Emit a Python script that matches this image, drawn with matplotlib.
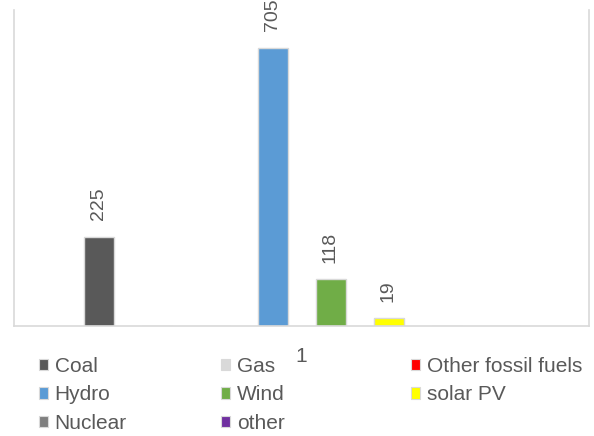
import matplotlib.pyplot as plt
from matplotlib.patches import Patch

plt.rcParams['font.family'] = ['Liberation Sans', 'DejaVu Sans']

# capacity by source, single category "1"
sources = ["Coal", "Gas", "Other fossil fuels", "Hydro", "Wind", "solar PV", "Nuclear", "other"]
values = [225, 0, 0, 705, 118, 19, 0, 0]
colors = ["#595959", "#d9d9d9", "#ff0000", "#5b9bd5", "#70ad47", "#ffff00", "#7f7f7f", "#7030a0"]
category = "1"

text_gray = "#595959"
edge_gray = "#d9d9d9"

fig = plt.figure(figsize=(5.94, 4.36), dpi=100)
ax = fig.add_axes([14 / 594, 110 / 436, 575 / 594, 316 / 436])

step = 58 / 575
width = 30 / 575
n = len(values)
for i, (name, v, c) in enumerate(zip(sources, values, colors)):
    x = (i - (n - 1) / 2) * step
    ax.bar(x, v, width=width, color=c, edgecolor=edge_gray, linewidth=1, label=name)
    if v:
        ax.annotate(str(v), xy=(x, v), xytext=(0, 12), textcoords="offset points",
                    rotation=90, ha="center", va="bottom", fontsize=14,
                    color=text_gray, annotation_clip=False)

ax.set_xlim(-0.5, 0.5)
ax.set_ylim(0, 800)
ax.set_xticks([0])
ax.set_xticklabels([category], fontsize=15, color=text_gray)
ax.tick_params(axis="x", length=0, pad=15)
ax.set_yticks([])
for side in ("left", "right", "bottom"):
    ax.spines[side].set_color(edge_gray)
    ax.spines[side].set_linewidth(1.2)
ax.spines["top"].set_visible(False)

# legend laid out in three equal columns, filled row by row
col_x = [39 / 594, 221 / 594, 411 / 594]
for c in range(3):
    idx = list(range(c, n, 3))
    handles = [Patch(facecolor=colors[i], edgecolor=edge_gray, linewidth=0.8) for i in idx]
    labels = [sources[i] for i in idx]
    fig.legend(handles, labels, loc="upper left", bbox_to_anchor=(col_x[c], 0.181),
               frameon=False, fontsize=15, labelcolor=text_gray, borderpad=0,
               borderaxespad=0, handlelength=0.45, handleheight=0.45,
               handletextpad=0.3, labelspacing=0.45)

fig.savefig("out.png", dpi=100)
